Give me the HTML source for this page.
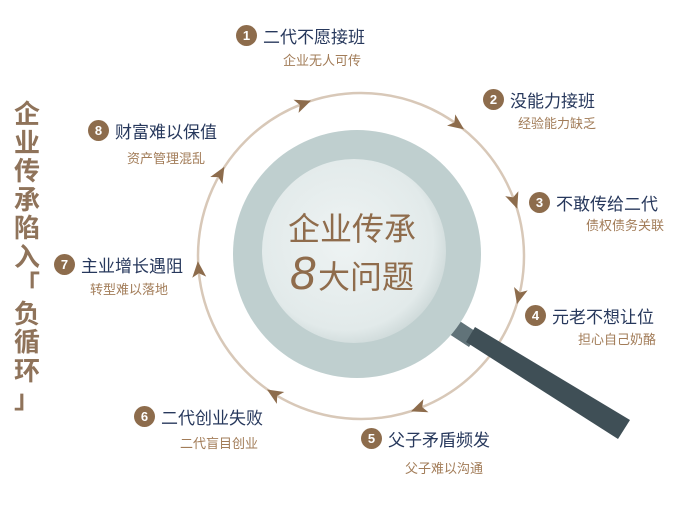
<!DOCTYPE html>
<html><head><meta charset="utf-8">
<style>
body{margin:0;width:685px;height:526px;background:#fff;overflow:hidden;position:relative;font-family:"Liberation Sans","Noto Sans CJK SC",sans-serif;}
.it{position:absolute;white-space:nowrap;}
.b{display:inline-block;width:21px;height:21px;border-radius:50%;background:#8d6c4c;color:#fff;font-size:13px;font-weight:bold;text-align:center;line-height:21px;vertical-align:middle;margin-right:6px;}
.t{font-size:17px;color:#27385c;vertical-align:middle;}
.s{position:absolute;font-size:13px;color:#a27c58;white-space:nowrap;}
.v{position:absolute;left:10px;top:100px;width:34px;font-size:26px;font-weight:bold;color:#8f735a;line-height:28.5px;text-align:center;}
</style></head><body>
<svg width="685" height="526" style="position:absolute;left:0;top:0">
<defs>
<radialGradient id="lens" cx="0.45" cy="0.45" r="0.6">
<stop offset="0" stop-color="#eef3f3"/><stop offset="0.8" stop-color="#e2eaea"/><stop offset="1" stop-color="#c9d5d5"/></radialGradient>
</defs>
<circle cx="361" cy="256" r="163" fill="none" stroke="#d8c8b8" stroke-width="2.5"/>
<g id="arr"></g>
<polygon points="452,316 478,333 469,347 443,330" fill="#617379"/>
<polygon points="475,327 630,420 618,439 466,342" fill="#3f4f56"/>
<circle cx="357" cy="254" r="124" fill="#bfcfcf"/>
<circle cx="354" cy="251" r="92" fill="url(#lens)"/>
<text x="352" y="240" text-anchor="middle" font-size="32" fill="#8f6c4c" font-family="Liberation Sans,Noto Sans CJK SC,sans-serif">企业传承</text>
<text x="290" y="289" font-size="46" font-style="italic" fill="#8f6c4c" font-family="Liberation Sans,sans-serif">8</text>
<text x="318" y="288" font-size="32" fill="#8f6c4c" font-family="Liberation Sans,Noto Sans CJK SC,sans-serif">大问题</text>
</svg>
<div class="v">企<br>业<br>传<br>承<br>陷<br>入<br>「<br>负<br>循<br>环<br>」</div>

<div class="it" style="left:236px;top:23px"><span class="b">1</span><span class="t">二代不愿接班</span></div>
<div class="s" style="left:283px;top:50px">企业无人可传</div>
<div class="it" style="left:483px;top:87px"><span class="b">2</span><span class="t">没能力接班</span></div>
<div class="s" style="left:518px;top:113px">经验能力缺乏</div>
<div class="it" style="left:529px;top:190px"><span class="b">3</span><span class="t">不敢传给二代</span></div>
<div class="s" style="left:586px;top:215px">债权债务关联</div>
<div class="it" style="left:525px;top:303px"><span class="b">4</span><span class="t">元老不想让位</span></div>
<div class="s" style="left:578px;top:329px">担心自己奶酪</div>
<div class="it" style="left:361px;top:426px"><span class="b">5</span><span class="t">父子矛盾频发</span></div>
<div class="s" style="left:405px;top:458px">父子难以沟通</div>
<div class="it" style="left:134px;top:404px"><span class="b">6</span><span class="t">二代创业失败</span></div>
<div class="s" style="left:180px;top:433px">二代盲目创业</div>
<div class="it" style="left:54px;top:252px"><span class="b">7</span><span class="t">主业增长遇阻</span></div>
<div class="s" style="left:90px;top:279px">转型难以落地</div>
<div class="it" style="left:88px;top:118px"><span class="b">8</span><span class="t">财富难以保值</span></div>
<div class="s" style="left:127px;top:148px">资产管理混乱</div>
<script>
var g=document.getElementById('arr'),cx=361,cy=256,r=163;
[-111,-54,-20,14,69,122,175,210].forEach(function(a){
var t=a*Math.PI/180,x=cx+r*Math.cos(t),y=cy+r*Math.sin(t);
var rot=a+90;
var p=document.createElementNS('http://www.w3.org/2000/svg','polygon');
p.setAttribute('points','9,0 -7,-7 -3,0 -7,7');
p.setAttribute('fill','#8d6c4c');
p.setAttribute('transform','translate('+x+','+y+') rotate('+rot+')');
g.appendChild(p);});
</script>
</body></html>
